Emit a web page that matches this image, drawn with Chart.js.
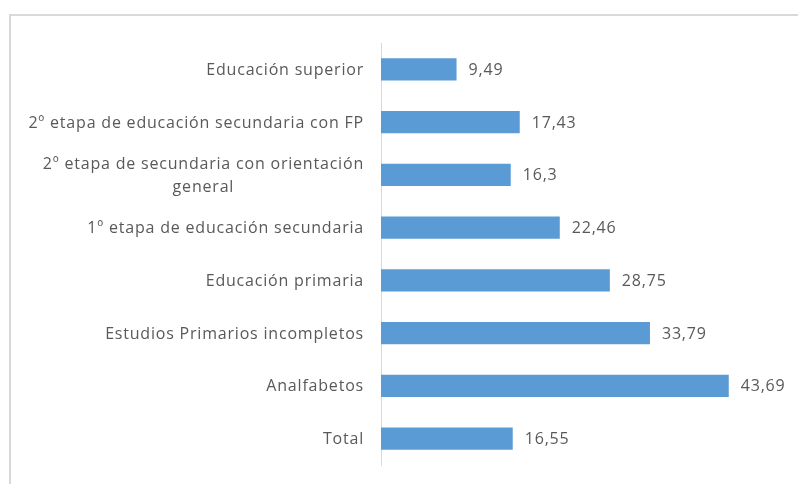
<!DOCTYPE html>
<html>
<head>
<meta charset="utf-8">
<script src="https://cdn.jsdelivr.net/npm/chart.js@4/dist/chart.umd.min.js"></script>
<style>
  body { margin: 0; background: #fff; }
  #wrap { position: relative; width: 798px; height: 484px; }
  #frame { position: absolute; left: 9px; top: 14px; width: 800px; height: 480px;
           border-left: 2px solid #d9d9d9; border-top: 2px solid #d9d9d9; }
  canvas { position: absolute; left: 0; top: 0; }
</style>
</head>
<body>
<div id="wrap">
  <div id="frame"></div>
  <canvas id="eduChart" width="798" height="484"></canvas>
</div>
<script>
// categories, top to bottom
const categories = [
    "Educación superior",
    "2º etapa de educación secundaria con FP",
    ["2º etapa de secundaria con orientación", "general"],
    "1º etapa de educación secundaria",
    "Educación primaria",
    "Estudios Primarios incompletos",
    "Analfabetos",
    "Total",
];
const values = [9.49, 17.43, 16.3, 22.46, 28.75, 33.79, 43.69, 16.55];

const barColor = "#5b9bd5";
const textColor = "#595959";
const fontFamily = "'Open Sans', 'Noto Sans', sans-serif";
const textFont = "16px " + fontFamily;
const spacing = "0.8px";

// category labels (multi-line ones centred like the original) and value labels
const textLabels = {
    id: "textLabels",
    afterDatasetsDraw(chart) {
        const ctx = chart.ctx;
        const yScale = chart.scales.y;
        const meta = chart.getDatasetMeta(0);
        ctx.save();
        ctx.font = textFont;
        ctx.letterSpacing = spacing;
        ctx.fillStyle = textColor;
        ctx.textBaseline = "middle";
        ctx.textAlign = "left";

        const right = yScale.right - 17;
        const lineH = 23;
        categories.forEach((cat, i) => {
            const lines = Array.isArray(cat) ? cat : [cat];
            const y0 = yScale.getPixelForTick(i) + 1 - (lines.length - 1) * lineH / 2;
            const widths = lines.map(l => ctx.measureText(l).width);
            const w = Math.max(...widths);
            lines.forEach((l, k) => {
                ctx.fillText(l, right - w + (w - widths[k]) / 2, y0 + k * lineH);
            });
        });

        meta.data.forEach((bar, i) => {
            const txt = String(values[i]).replace(".", ",");
            ctx.fillText(txt, bar.x + 12, bar.y + 1);
        });
        ctx.restore();
    },
};

const ctx = document.getElementById("eduChart");
new Chart(ctx, {
    type: "bar",
    data: {
        labels: categories,
        datasets: [{
            data: values,
            backgroundColor: barColor,
            barPercentage: 0.84,
            categoryPercentage: 0.5,
        }],
    },
    options: {
        indexAxis: "y",
        responsive: false,
        animation: false,
        layout: { padding: { top: 43, bottom: 19, right: 19, left: 0 } },
        plugins: {
            legend: { display: false },
            tooltip: { enabled: false },
        },
        scales: {
            x: {
                display: false,
                min: 0,
                max: 50,
            },
            y: {
                afterFit(scale) { scale.width = 381; },
                grid: { display: false, drawTicks: false },
                border: { display: true, color: "#d9d9d9", width: 1 },
                ticks: { display: false },
            },
        },
    },
    plugins: [textLabels],
});
</script>
</body>
</html>
